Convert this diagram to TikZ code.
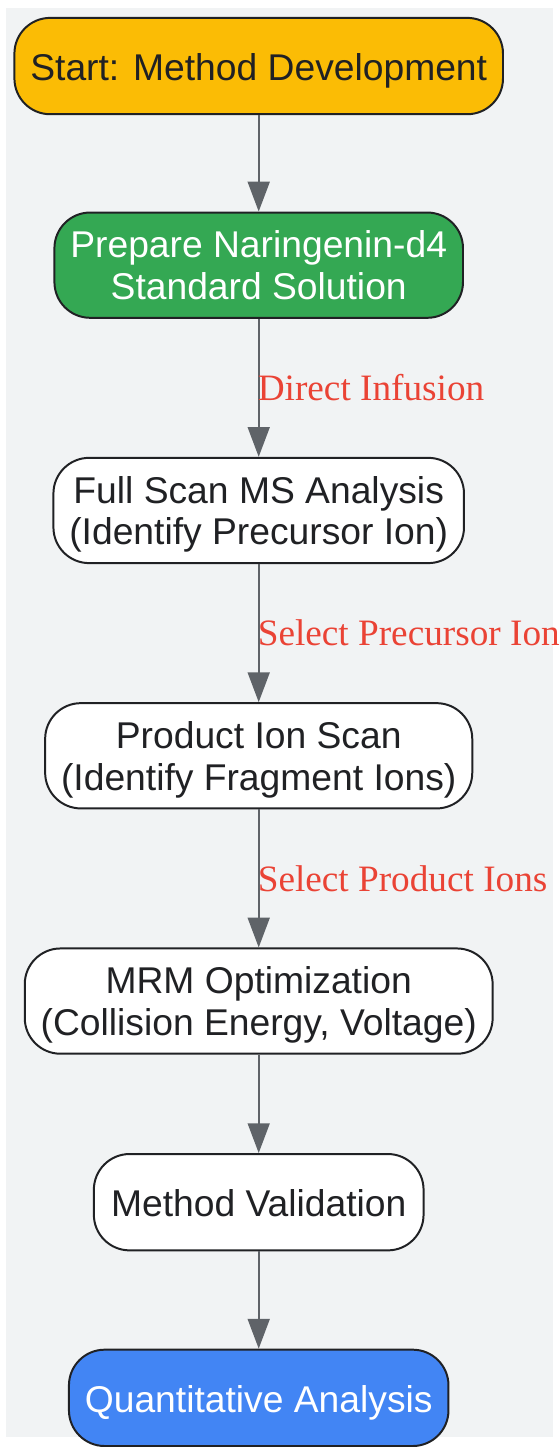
\documentclass[tikz,border=0pt]{standalone}
\usepackage{fontspec}
\usetikzlibrary{arrows.meta, positioning, backgrounds}
\setmainfont{Liberation Sans}
\newfontfamily\edgefont{Liberation Serif}
\definecolor{flowYellow}{HTML}{FBBC05}
\definecolor{flowGreen}{HTML}{34A853}
\definecolor{flowBlue}{HTML}{4285F4}
\definecolor{flowInk}{HTML}{202124}
\definecolor{flowRed}{HTML}{EA4335}
\definecolor{flowGray}{HTML}{5F6368}
\definecolor{flowBg}{HTML}{F1F3F4}
\tikzset{
  arrowF/.style={-{Triangle[length=30pt, width=22pt]}, draw=flowGray, line width=2.2pt},
  boxW/.style={rectangle, rounded corners=36pt, draw=flowInk, line width=2pt, fill=white,
               text=flowInk, align=center, font=\fontsize{37.5pt}{42pt}\selectfont,
               inner xsep=16pt, inner ysep=0pt, minimum height=97pt, text depth=0pt},
  boxY/.style={boxW, fill=flowYellow},
  boxG/.style={boxW, fill=flowGreen, text=white},
  boxB/.style={boxW, fill=flowBlue, text=white},
  oneLine/.style={text height=29pt},
  twoLine/.style={minimum height=106pt},
  edgeLbl/.style={anchor=west, inner sep=0pt, xshift=-2pt, text=flowRed,
                  font=\edgefont\fontsize{37.5pt}{42pt}\selectfont},
}

\begin{document}
\begin{tikzpicture}[node distance=139pt]
    \node[boxY, oneLine, minimum width=487pt] (start) {Start: Method Development};
    \node[boxG, twoLine, below=97pt of start, minimum width=408pt] (prep) {Prepare Naringenin-d4\\Standard Solution};
    \node[boxW, twoLine, below=of prep, minimum width=410pt] (full) {Full Scan MS Analysis\\(Identify Precursor Ion)};
    \node[boxW, twoLine, below=of full, minimum width=427pt] (prod) {Product Ion Scan\\(Identify Fragment Ions)};
    \node[boxW, twoLine, below=of prod, minimum width=464pt] (mrm) {MRM Optimization\\(Collision Energy, Voltage)};
    \node[boxW, oneLine, below=99pt of mrm, minimum width=332pt] (valid) {Method Validation};
    \node[boxB, oneLine, below=98pt of valid, minimum width=380pt] (quant) {Quantitative Analysis};
    \draw[arrowF] (start) -- (prep);
    \draw[arrowF] (prep) -- node[edgeLbl] {Direct Infusion} (full);
    \draw[arrowF] (full) -- node[edgeLbl] {Select Precursor Ion} (prod);
    \draw[arrowF] (prod) -- node[edgeLbl] {Select Product Ions} (mrm);
    \draw[arrowF] (mrm) -- (valid);
    \draw[arrowF] (valid) -- (quant);
    \begin{scope}[on background layer]
      \fill[flowBg] ([xshift=-254.5pt, yshift=58.5pt]start.center) rectangle ([xshift=296.5pt, yshift=-1380.5pt]start.center);
    \end{scope}
    \useasboundingbox ([xshift=-260.5pt, yshift=66.5pt]start.center) rectangle ([xshift=296.5pt, yshift=-1380.5pt]start.center);
  \end{tikzpicture}
\end{document}
